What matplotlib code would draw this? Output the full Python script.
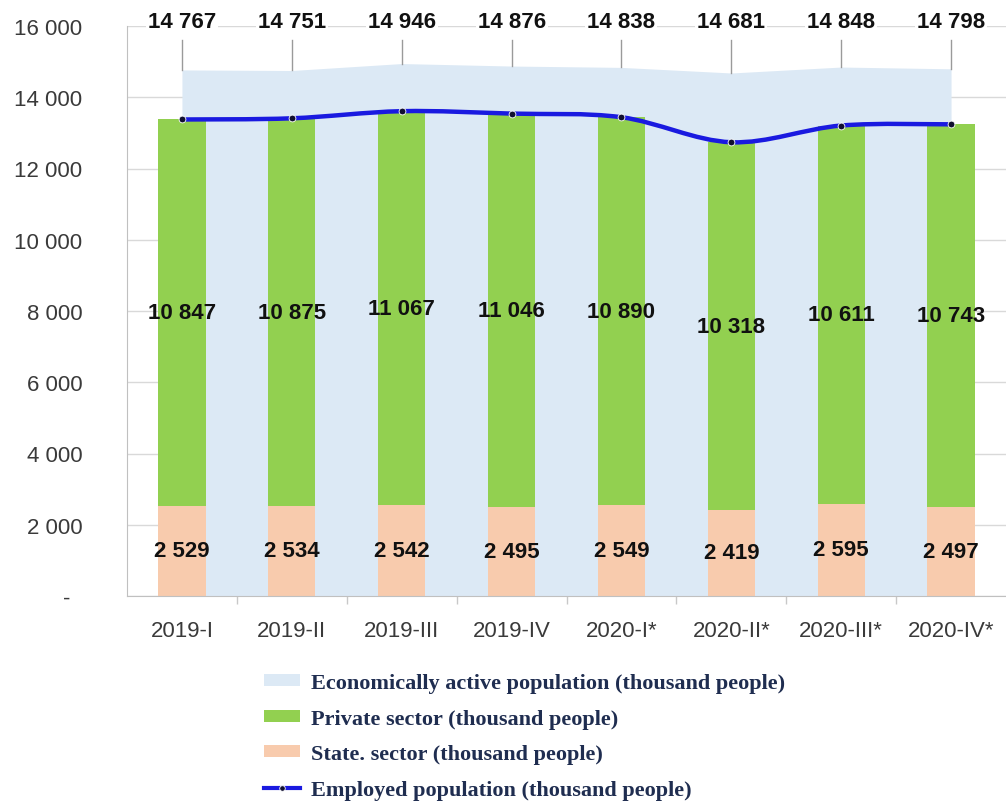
import matplotlib
matplotlib.use("Agg")
import matplotlib.pyplot as plt
from matplotlib.path import Path
from matplotlib.patches import PathPatch, Patch
from matplotlib.lines import Line2D
import numpy as np

plt.rcParams['font.family'] = ['Liberation Sans', 'DejaVu Sans']

quarters = ["2019-I", "2019-II", "2019-III", "2019-IV",
            "2020-I*", "2020-II*", "2020-III*", "2020-IV*"]
econ_active = [14767, 14751, 14946, 14876, 14838, 14681, 14848, 14798]
private = [10847, 10875, 11067, 11046, 10890, 10318, 10611, 10743]
state = [2529, 2534, 2542, 2495, 2549, 2419, 2595, 2497]
yticks = [0, 2000, 4000, 6000, 8000, 10000, 12000, 14000, 16000]
ytick_labels = ["-  ", "2 000", "4 000", "6 000", "8 000", "10 000", "12 000", "14 000", "16 000"]
legend_labels = ["Economically active population (thousand people)",
                 "Private sector (thousand people)",
                 "State. sector (thousand people)",
                 "Employed population (thousand people)"]

C_AREA = "#dce9f5"
C_PRIV = "#92d050"
C_STATE = "#f8cbad"
C_LINE = "#1a1ae0"


def fmt(v):
    return f"{v:,}".replace(",", " ")


W, H = 1006, 803
fig = plt.figure(figsize=(W / 100, H / 100), dpi=100)
ax = fig.add_axes([127 / W, 206 / H, 879 / W, 570 / H])

x = np.arange(len(quarters))
state_a = np.array(state)
priv_a = np.array(private)
employed = state_a + priv_a

ax.fill_between(x, 0, econ_active, color=C_AREA, linewidth=0, zorder=1)
ax.bar(x, state_a, width=0.43, color=C_STATE, zorder=2, linewidth=0)
ax.bar(x, priv_a, bottom=state_a, width=0.43, color=C_PRIV, zorder=2, linewidth=0)

# smooth (Catmull-Rom) line through employed points
pts = np.column_stack([x, employed]).astype(float)
ext = np.vstack([pts[0], pts, pts[-1]])
verts = [tuple(pts[0])]
codes = [Path.MOVETO]
for i in range(len(pts) - 1):
    p0, p1, p2, p3 = ext[i], ext[i + 1], ext[i + 2], ext[i + 3]
    c1 = p1 + (p2 - p0) / 6.0
    c2 = p2 - (p3 - p1) / 6.0
    verts += [tuple(c1), tuple(c2), tuple(p2)]
    codes += [Path.CURVE4] * 3
ax.add_patch(PathPatch(Path(verts, codes), facecolor="none", edgecolor=C_LINE,
                       lw=3.2, zorder=3, capstyle="round"))
ax.scatter(x, employed, s=24, color="#101030", edgecolor="white", linewidth=0.6, zorder=4)

# labels
for xi, v in zip(x, econ_active):
    ax.plot([xi, xi], [15620, v], color="#9a9a9a", lw=1, zorder=1.5, clip_on=False)
    ax.text(xi, 16140, fmt(v), ha="center", va="center", fontsize=16, fontweight="bold",
            color="#111111", zorder=6, clip_on=False,
            bbox=dict(facecolor="white", edgecolor="none", pad=1.5))
for xi, s, p in zip(x, state_a, priv_a):
    ax.text(xi, s + p / 2, fmt(int(p)), ha="center", va="center", fontsize=16,
            fontweight="bold", color="#111111", zorder=6)
    ax.text(xi, s / 2, fmt(int(s)), ha="center", va="center", fontsize=16,
            fontweight="bold", color="#111111", zorder=6)

ax.set_xlim(-0.5, len(quarters) - 0.5)
ax.set_ylim(0, 16000)
ax.set_yticks(yticks)
ax.set_yticklabels(ytick_labels)
ax.yaxis.grid(True, color="#d9d9d9", lw=1)
ax.set_axisbelow(True)
ax.set_xticks(x)
ax.set_xticklabels(quarters)
ax.set_xticks(x[:-1] + 0.5, minor=True)
ax.tick_params(axis="y", length=0, pad=32, labelsize=16, labelcolor="#3a3a3a")
ax.tick_params(axis="x", which="major", length=0, pad=17, labelsize=16, labelcolor="#3a3a3a")
ax.tick_params(axis="x", which="minor", length=6, color="#c8c8c8", width=1)
for s in ["top", "right"]:
    ax.spines[s].set_visible(False)
for s in ["left", "bottom"]:
    ax.spines[s].set_color("#c0c0c0")

handles = [Patch(facecolor=C_AREA, edgecolor="none"),
           Patch(facecolor=C_PRIV, edgecolor="none"),
           Patch(facecolor=C_STATE, edgecolor="none"),
           Line2D([], [], color=C_LINE, lw=3, marker="o", ms=4,
                  mfc="#101030", mec="white", mew=0.6)]
fig.legend(handles, legend_labels, loc="upper left",
           bbox_to_anchor=(264 / W, 1 - 674 / H), frameon=False,
           prop=dict(family="Liberation Serif", weight="bold", size=16),
           labelcolor="#1f2d50", handlelength=1.6, handleheight=0.45,
           labelspacing=0.7, borderaxespad=0, borderpad=0, handletextpad=0.5)

fig.savefig("out.png", dpi=100)
